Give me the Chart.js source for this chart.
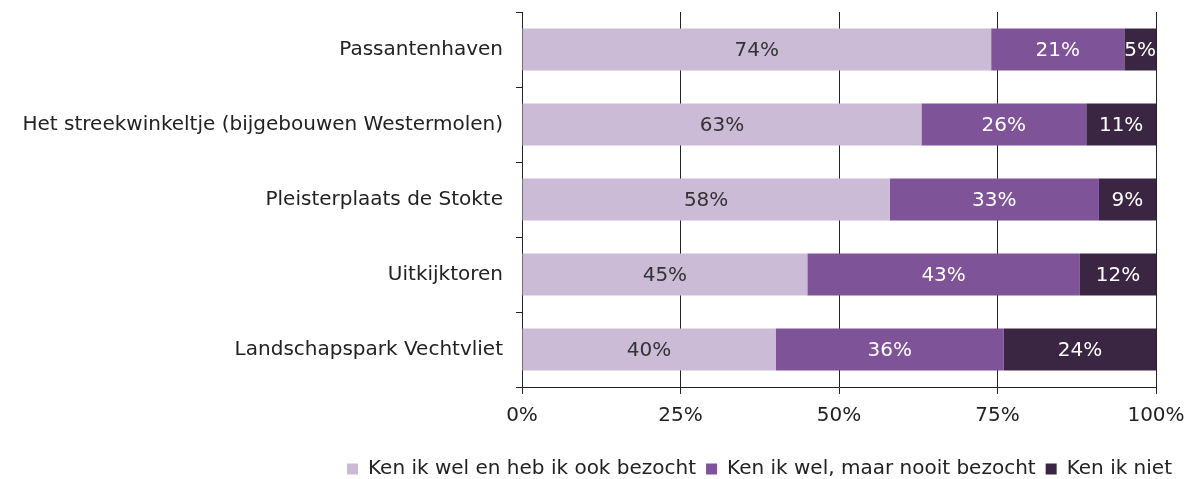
<!DOCTYPE html>
<html>
<head>
<meta charset="utf-8">
<script src="https://cdn.jsdelivr.net/npm/chart.js@4/dist/chart.umd.min.js"></script>
<style>
  html, body { margin: 0; padding: 0; background: #fff; }
  #wrap { width: 1196px; height: 479px; }
</style>
</head>
<body>
<div id="wrap"><canvas id="grafiek"></canvas></div>
<script>
// Gegevens
const categorieen = [
  'Passantenhaven',
  'Het streekwinkeltje (bijgebouwen Westermolen)',
  'Pleisterplaats de Stokte',
  'Uitkijktoren',
  'Landschapspark Vechtvliet'
];
const bezocht = [74, 63, 58, 45, 40];
const nooitBezocht = [21, 26, 33, 43, 36];
const kenIkNiet = [5, 11, 9, 12, 24];
const reeksNamen = ['Ken ik wel en heb ik ook bezocht', 'Ken ik wel, maar nooit bezocht', 'Ken ik niet'];
const xTicks = [0, 25, 50, 75, 100];

const kleuren = ['#cbbbd6', '#7f5397', '#3a2642'];
const tekstKleuren = ['#333333', '#ffffff', '#ffffff'];
const lettertype = '"DejaVu Sans", Verdana, sans-serif';

// Plugin die de percentages midden in de balken zet
const labelPlugin = {
  id: 'balkLabels',
  afterDatasetsDraw(chart) {
    const ctx = chart.ctx;
    ctx.save();
    ctx.font = '20px ' + lettertype;
    ctx.textAlign = 'center';
    ctx.textBaseline = 'middle';
    chart.data.datasets.forEach((ds, i) => {
      const meta = chart.getDatasetMeta(i);
      meta.data.forEach((bar, j) => {
        const midden = (bar.x + bar.base) / 2;
        ctx.fillStyle = tekstKleuren[i];
        ctx.fillText(ds.data[j] + '%', midden, bar.y + 1);
      });
    });
    ctx.restore();
  }
};

Chart.defaults.font.family = lettertype;
Chart.defaults.font.size = 20;
Chart.defaults.color = '#222';

new Chart(document.getElementById('grafiek').getContext('2d'), {
  type: 'bar',
  data: {
    labels: categorieen,
    datasets: [
      { label: reeksNamen[0], data: bezocht, backgroundColor: kleuren[0] },
      { label: reeksNamen[1], data: nooitBezocht, backgroundColor: kleuren[1] },
      { label: reeksNamen[2], data: kenIkNiet, backgroundColor: kleuren[2] }
    ]
  },
  plugins: [labelPlugin],
  options: {
    indexAxis: 'y',
    responsive: true,
    maintainAspectRatio: false,
    animation: false,
    layout: { padding: { top: 12, right: 14, left: 0, bottom: -10 } },
    datasets: {
      bar: { categoryPercentage: 0.56, barPercentage: 1.0 }
    },
    scales: {
      x: {
        stacked: true,
        min: 0,
        max: 100,
        afterBuildTicks(scale) {
          scale.ticks = xTicks.map(v => ({ value: v }));
        },
        afterFit(scale) {
          scale.height = 62;
          scale.paddingRight = 40;
        },
        border: { color: '#222', width: 1 },
        grid: { color: '#222', lineWidth: 1, tickLength: 7, drawOnChartArea: true },
        ticks: { padding: 10, color: '#222', callback: v => v + '%', font: { size: 20 } }
      },
      y: {
        stacked: true,
        afterFit(scale) {
          scale.width = 522;
          scale.paddingTop = 0;
          scale.paddingBottom = 0;
        },
        border: { color: '#222', width: 1 },
        grid: { offset: true, drawOnChartArea: false, color: '#222', tickLength: 6 },
        ticks: { padding: 13, color: '#222', font: { size: 20 } }
      }
    },
    plugins: {
      legend: {
        position: 'bottom',
        align: 'end',
        labels: {
          boxWidth: 11,
          boxHeight: 11,
          padding: 10,
          color: '#222',
          font: { size: 20 }
        }
      },
      tooltip: { enabled: false }
    }
  }
});
</script>
</body>
</html>
